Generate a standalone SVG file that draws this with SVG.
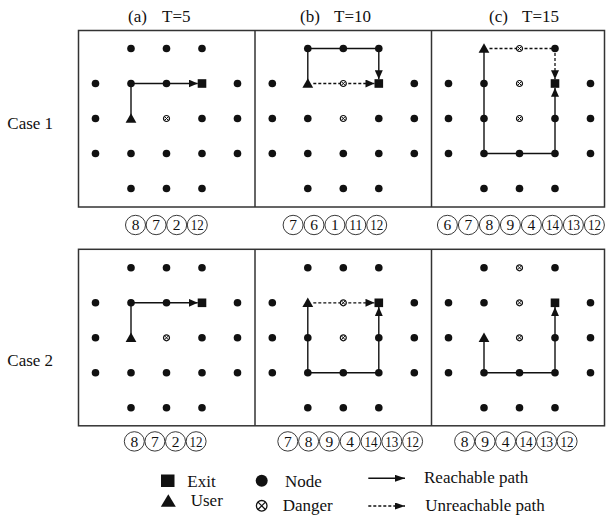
<svg xmlns="http://www.w3.org/2000/svg" xmlns:xlink="http://www.w3.org/1999/xlink" width="606" height="525" viewBox="0 0 606 525">
<style>
.lbl{font-family:"Liberation Serif","Times New Roman",serif;font-size:17px;fill:#111}
.num{font-family:"Liberation Serif","Times New Roman",serif;font-size:15.5px;fill:#111;text-anchor:middle}
.box{fill:none;stroke:#333;stroke-width:1.5}
.sol{fill:none;stroke:#111;stroke-width:1.4}
.dsh{fill:none;stroke:#111;stroke-width:1.3;stroke-dasharray:3 2}
.cir{fill:#fff;stroke:#222;stroke-width:0.9}
</style>
<defs>
<marker id="ah" markerUnits="userSpaceOnUse" markerWidth="9" markerHeight="8" refX="9" refY="4" orient="auto"><path d="M0,0 L9,4 L0,8 Z" fill="#111"/></marker>
<marker id="ahs" markerUnits="userSpaceOnUse" markerWidth="10" markerHeight="7" refX="10" refY="3.5" orient="auto"><path d="M0,0 L10,3.5 L0,7 Z" fill="#111"/></marker>
<circle id="dot" r="3.8" fill="#111"/>
<rect id="exit" x="-4.3" y="-4.3" width="8.6" height="8.6" fill="#111"/>
<path id="user" d="M0,-5.2 L5.4,4.3 L-5.4,4.3 Z" fill="#111"/>
<g id="danger"><circle r="3" fill="#fff" stroke="#111" stroke-width="1.2"/><path d="M-2.1,-2.1 L2.1,2.1 M-2.1,2.1 L2.1,-2.1" stroke="#111" stroke-width="1"/></g>
</defs>
<rect width="606" height="525" fill="#fff"/>

<!-- frames -->
<g id="frames">
<rect class="box" x="78.5" y="30.5" width="526" height="176.5"/>
<line class="box" x1="255" y1="30.5" x2="255" y2="207"/>
<line class="box" x1="431.5" y1="30.5" x2="431.5" y2="207"/>
<rect class="box" x="78.5" y="249.3" width="526" height="176.5"/>
<line class="box" x1="255" y1="249.3" x2="255" y2="425.8"/>
<line class="box" x1="431.5" y1="249.3" x2="431.5" y2="425.8"/>
</g>

<!-- titles -->
<g id="titles" class="lbl">
<text x="128" y="22">(a)</text><text x="162" y="22">T=5</text>
<text x="300" y="22">(b)</text><text x="334" y="22">T=10</text>
<text x="489" y="22">(c)</text><text x="522" y="22">T=15</text>
<text x="7.3" y="129.3">Case 1</text>
<text x="7.3" y="366">Case 2</text>
</g>

<!-- connectors -->
<g id="connectors">
<g transform="translate(166.5,118.5)"><path class="sol" d="M-35.5,0 V-35 H31.2" marker-end="url(#ah)"/></g>
<g transform="translate(343.3,118.5)"><path class="sol" d="M-35.5,-35 V-70 H35.5 V-39.3" marker-end="url(#ah)"/><path class="dsh" d="M-30,-35 H31.2" marker-end="url(#ah)"/></g>
<g transform="translate(519.5,118.5)"><path class="dsh" d="M-30,-70 H35.5 V-39.3" marker-end="url(#ah)"/><path class="sol" d="M-35.5,-70 V35 H35.5 V-30.7" marker-end="url(#ah)"/></g>
<g transform="translate(166.5,337.8)"><path class="sol" d="M-35.5,0 V-35 H31.2" marker-end="url(#ah)"/></g>
<g transform="translate(343.3,337.8)"><path class="sol" d="M-35.5,-35 V35 H35.5 V-30.7" marker-end="url(#ah)"/><path class="dsh" d="M-30,-35 H31.2" marker-end="url(#ah)"/></g>
<g transform="translate(519.5,337.8)"><path class="sol" d="M-35.5,0 V35 H35.5 V-30.7" marker-end="url(#ah)"/></g>
</g>

<!-- panel a, case 1 -->
<g id="a1" transform="translate(166.5,118.5)">
<use id="a1-01" href="#dot" x="-35.5" y="-70"/><use id="a1-02" href="#dot" x="0" y="-70"/><use id="a1-03" href="#dot" x="35.5" y="-70"/>
<use id="a1-10" href="#dot" x="-71" y="-35"/><use id="a1-11" href="#dot" x="-35.5" y="-35"/><use id="a1-12" href="#dot" x="0" y="-35"/><use id="a1-exit" href="#exit" x="35.5" y="-35"/><use id="a1-14" href="#dot" x="71" y="-35"/>
<use id="a1-20" href="#dot" x="-71" y="0"/><use id="a1-user" href="#user" x="-35.5" y="0"/><use id="a1-d22" href="#danger" x="0" y="0"/><use id="a1-23" href="#dot" x="35.5" y="0"/><use id="a1-24" href="#dot" x="71" y="0"/>
<use id="a1-30" href="#dot" x="-71" y="35"/><use id="a1-31" href="#dot" x="-35.5" y="35"/><use id="a1-32" href="#dot" x="0" y="35"/><use id="a1-33" href="#dot" x="35.5" y="35"/><use id="a1-34" href="#dot" x="71" y="35"/>
<use id="a1-41" href="#dot" x="-35.5" y="70"/><use id="a1-42" href="#dot" x="0" y="70"/><use id="a1-43" href="#dot" x="35.5" y="70"/>
</g>

<!-- panel b, case 1 -->
<g id="b1" transform="translate(343.3,118.5)">
<use id="b1-01" href="#dot" x="-35.5" y="-70"/><use id="b1-02" href="#dot" x="0" y="-70"/><use id="b1-03" href="#dot" x="35.5" y="-70"/>
<use id="b1-10" href="#dot" x="-71" y="-35"/><use id="b1-user" href="#user" x="-35.5" y="-35"/><use id="b1-d12" href="#danger" x="0" y="-35"/><use id="b1-exit" href="#exit" x="35.5" y="-35"/><use id="b1-14" href="#dot" x="71" y="-35"/>
<use id="b1-20" href="#dot" x="-71" y="0"/><use id="b1-21" href="#dot" x="-35.5" y="0"/><use id="b1-d22" href="#danger" x="0" y="0"/><use id="b1-23" href="#dot" x="35.5" y="0"/><use id="b1-24" href="#dot" x="71" y="0"/>
<use id="b1-30" href="#dot" x="-71" y="35"/><use id="b1-31" href="#dot" x="-35.5" y="35"/><use id="b1-32" href="#dot" x="0" y="35"/><use id="b1-33" href="#dot" x="35.5" y="35"/><use id="b1-34" href="#dot" x="71" y="35"/>
<use id="b1-41" href="#dot" x="-35.5" y="70"/><use id="b1-42" href="#dot" x="0" y="70"/><use id="b1-43" href="#dot" x="35.5" y="70"/>
</g>

<!-- panel c, case 1 -->
<g id="c1" transform="translate(519.5,118.5)">
<use id="c1-user" href="#user" x="-35.5" y="-70"/><use id="c1-d02" href="#danger" x="0" y="-70"/><use id="c1-03" href="#dot" x="35.5" y="-70"/>
<use id="c1-10" href="#dot" x="-71" y="-35"/><use id="c1-11" href="#dot" x="-35.5" y="-35"/><use id="c1-d12" href="#danger" x="0" y="-35"/><use id="c1-exit" href="#exit" x="35.5" y="-35"/><use id="c1-14" href="#dot" x="71" y="-35"/>
<use id="c1-20" href="#dot" x="-71" y="0"/><use id="c1-21" href="#dot" x="-35.5" y="0"/><use id="c1-d22" href="#danger" x="0" y="0"/><use id="c1-23" href="#dot" x="35.5" y="0"/><use id="c1-24" href="#dot" x="71" y="0"/>
<use id="c1-30" href="#dot" x="-71" y="35"/><use id="c1-31" href="#dot" x="-35.5" y="35"/><use id="c1-32" href="#dot" x="0" y="35"/><use id="c1-33" href="#dot" x="35.5" y="35"/><use id="c1-34" href="#dot" x="71" y="35"/>
<use id="c1-41" href="#dot" x="-35.5" y="70"/><use id="c1-42" href="#dot" x="0" y="70"/><use id="c1-43" href="#dot" x="35.5" y="70"/>
</g>

<!-- panel a, case 2 -->
<g id="a2" transform="translate(166.5,337.8)">
<use id="a2-01" href="#dot" x="-35.5" y="-70"/><use id="a2-02" href="#dot" x="0" y="-70"/><use id="a2-03" href="#dot" x="35.5" y="-70"/>
<use id="a2-10" href="#dot" x="-71" y="-35"/><use id="a2-11" href="#dot" x="-35.5" y="-35"/><use id="a2-12" href="#dot" x="0" y="-35"/><use id="a2-exit" href="#exit" x="35.5" y="-35"/><use id="a2-14" href="#dot" x="71" y="-35"/>
<use id="a2-20" href="#dot" x="-71" y="0"/><use id="a2-user" href="#user" x="-35.5" y="0"/><use id="a2-d22" href="#danger" x="0" y="0"/><use id="a2-23" href="#dot" x="35.5" y="0"/><use id="a2-24" href="#dot" x="71" y="0"/>
<use id="a2-30" href="#dot" x="-71" y="35"/><use id="a2-31" href="#dot" x="-35.5" y="35"/><use id="a2-32" href="#dot" x="0" y="35"/><use id="a2-33" href="#dot" x="35.5" y="35"/><use id="a2-34" href="#dot" x="71" y="35"/>
<use id="a2-41" href="#dot" x="-35.5" y="70"/><use id="a2-42" href="#dot" x="0" y="70"/><use id="a2-43" href="#dot" x="35.5" y="70"/>
</g>

<!-- panel b, case 2 -->
<g id="b2" transform="translate(343.3,337.8)">
<use id="b2-01" href="#dot" x="-35.5" y="-70"/><use id="b2-02" href="#dot" x="0" y="-70"/><use id="b2-03" href="#dot" x="35.5" y="-70"/>
<use id="b2-10" href="#dot" x="-71" y="-35"/><use id="b2-user" href="#user" x="-35.5" y="-35"/><use id="b2-d12" href="#danger" x="0" y="-35"/><use id="b2-exit" href="#exit" x="35.5" y="-35"/><use id="b2-14" href="#dot" x="71" y="-35"/>
<use id="b2-20" href="#dot" x="-71" y="0"/><use id="b2-21" href="#dot" x="-35.5" y="0"/><use id="b2-d22" href="#danger" x="0" y="0"/><use id="b2-23" href="#dot" x="35.5" y="0"/><use id="b2-24" href="#dot" x="71" y="0"/>
<use id="b2-30" href="#dot" x="-71" y="35"/><use id="b2-31" href="#dot" x="-35.5" y="35"/><use id="b2-32" href="#dot" x="0" y="35"/><use id="b2-33" href="#dot" x="35.5" y="35"/><use id="b2-34" href="#dot" x="71" y="35"/>
<use id="b2-41" href="#dot" x="-35.5" y="70"/><use id="b2-42" href="#dot" x="0" y="70"/><use id="b2-43" href="#dot" x="35.5" y="70"/>
</g>

<!-- panel c, case 2 -->
<g id="c2" transform="translate(519.5,337.8)">
<use id="c2-01" href="#dot" x="-35.5" y="-70"/><use id="c2-d02" href="#danger" x="0" y="-70"/><use id="c2-03" href="#dot" x="35.5" y="-70"/>
<use id="c2-10" href="#dot" x="-71" y="-35"/><use id="c2-11" href="#dot" x="-35.5" y="-35"/><use id="c2-d12" href="#danger" x="0" y="-35"/><use id="c2-exit" href="#exit" x="35.5" y="-35"/><use id="c2-14" href="#dot" x="71" y="-35"/>
<use id="c2-20" href="#dot" x="-71" y="0"/><use id="c2-user" href="#user" x="-35.5" y="0"/><use id="c2-d22" href="#danger" x="0" y="0"/><use id="c2-23" href="#dot" x="35.5" y="0"/><use id="c2-24" href="#dot" x="71" y="0"/>
<use id="c2-30" href="#dot" x="-71" y="35"/><use id="c2-31" href="#dot" x="-35.5" y="35"/><use id="c2-32" href="#dot" x="0" y="35"/><use id="c2-33" href="#dot" x="35.5" y="35"/><use id="c2-34" href="#dot" x="71" y="35"/>
<use id="c2-41" href="#dot" x="-35.5" y="70"/><use id="c2-42" href="#dot" x="0" y="70"/><use id="c2-43" href="#dot" x="35.5" y="70"/>
</g>

<!-- sequences -->
<g id="seq-a1">
<ellipse class="cir" cx="135.5" cy="225" rx="10" ry="9.7"/><ellipse class="cir" cx="156.1" cy="225" rx="10" ry="9.7"/><ellipse class="cir" cx="176.7" cy="225" rx="10" ry="9.7"/><ellipse class="cir" cx="197.3" cy="225" rx="10" ry="9.7"/>
<text class="num" x="135.5" y="230.3">8</text><text class="num" x="156.1" y="230.3">7</text><text class="num" x="176.7" y="230.3">2</text><text class="num" x="197.3" y="230.3" textLength="13" lengthAdjust="spacingAndGlyphs">12</text>
</g>
<g id="seq-b1">
<ellipse class="cir" cx="293.1" cy="225" rx="10" ry="9.7"/><ellipse class="cir" cx="314" cy="225" rx="10" ry="9.7"/><ellipse class="cir" cx="334.9" cy="225" rx="10" ry="9.7"/><ellipse class="cir" cx="355.8" cy="225" rx="10" ry="9.7"/><ellipse class="cir" cx="376.7" cy="225" rx="10" ry="9.7"/>
<text class="num" x="293.1" y="230.3">7</text><text class="num" x="314" y="230.3">6</text><text class="num" x="334.9" y="230.3">1</text><text class="num" x="355.8" y="230.3" textLength="13" lengthAdjust="spacingAndGlyphs">11</text><text class="num" x="376.7" y="230.3" textLength="13" lengthAdjust="spacingAndGlyphs">12</text>
</g>
<g id="seq-c1">
<ellipse class="cir" cx="447.4" cy="225" rx="10" ry="9.7"/><ellipse class="cir" cx="468.4" cy="225" rx="10" ry="9.7"/><ellipse class="cir" cx="489.4" cy="225" rx="10" ry="9.7"/><ellipse class="cir" cx="510.4" cy="225" rx="10" ry="9.7"/><ellipse class="cir" cx="531.4" cy="225" rx="10" ry="9.7"/><ellipse class="cir" cx="552.4" cy="225" rx="10" ry="9.7"/><ellipse class="cir" cx="573.4" cy="225" rx="10" ry="9.7"/><ellipse class="cir" cx="594.4" cy="225" rx="10" ry="9.7"/>
<text class="num" x="447.4" y="230.3">6</text><text class="num" x="468.4" y="230.3">7</text><text class="num" x="489.4" y="230.3">8</text><text class="num" x="510.4" y="230.3">9</text><text class="num" x="531.4" y="230.3">4</text><text class="num" x="552.4" y="230.3" textLength="13" lengthAdjust="spacingAndGlyphs">14</text><text class="num" x="573.4" y="230.3" textLength="13" lengthAdjust="spacingAndGlyphs">13</text><text class="num" x="594.4" y="230.3" textLength="13" lengthAdjust="spacingAndGlyphs">12</text>
</g>
<g id="seq-a2">
<ellipse class="cir" cx="134.3" cy="441.4" rx="10" ry="9.7"/><ellipse class="cir" cx="154.9" cy="441.4" rx="10" ry="9.7"/><ellipse class="cir" cx="175.5" cy="441.4" rx="10" ry="9.7"/><ellipse class="cir" cx="196.1" cy="441.4" rx="10" ry="9.7"/>
<text class="num" x="134.3" y="446.7">8</text><text class="num" x="154.9" y="446.7">7</text><text class="num" x="175.5" y="446.7">2</text><text class="num" x="196.1" y="446.7" textLength="13" lengthAdjust="spacingAndGlyphs">12</text>
</g>
<g id="seq-b2">
<ellipse class="cir" cx="287.8" cy="441.4" rx="10" ry="9.7"/><ellipse class="cir" cx="308.6" cy="441.4" rx="10" ry="9.7"/><ellipse class="cir" cx="329.4" cy="441.4" rx="10" ry="9.7"/><ellipse class="cir" cx="350.2" cy="441.4" rx="10" ry="9.7"/><ellipse class="cir" cx="371" cy="441.4" rx="10" ry="9.7"/><ellipse class="cir" cx="391.8" cy="441.4" rx="10" ry="9.7"/><ellipse class="cir" cx="412.6" cy="441.4" rx="10" ry="9.7"/>
<text class="num" x="287.8" y="446.7">7</text><text class="num" x="308.6" y="446.7">8</text><text class="num" x="329.4" y="446.7">9</text><text class="num" x="350.2" y="446.7">4</text><text class="num" x="371" y="446.7" textLength="13" lengthAdjust="spacingAndGlyphs">14</text><text class="num" x="391.8" y="446.7" textLength="13" lengthAdjust="spacingAndGlyphs">13</text><text class="num" x="412.6" y="446.7" textLength="13" lengthAdjust="spacingAndGlyphs">12</text>
</g>
<g id="seq-c2">
<ellipse class="cir" cx="464.6" cy="441.4" rx="10" ry="9.7"/><ellipse class="cir" cx="485.1" cy="441.4" rx="10" ry="9.7"/><ellipse class="cir" cx="505.6" cy="441.4" rx="10" ry="9.7"/><ellipse class="cir" cx="526.1" cy="441.4" rx="10" ry="9.7"/><ellipse class="cir" cx="546.6" cy="441.4" rx="10" ry="9.7"/><ellipse class="cir" cx="567.1" cy="441.4" rx="10" ry="9.7"/>
<text class="num" x="464.6" y="446.7">8</text><text class="num" x="485.1" y="446.7">9</text><text class="num" x="505.6" y="446.7">4</text><text class="num" x="526.1" y="446.7" textLength="13" lengthAdjust="spacingAndGlyphs">14</text><text class="num" x="546.6" y="446.7" textLength="13" lengthAdjust="spacingAndGlyphs">13</text><text class="num" x="567.1" y="446.7" textLength="13" lengthAdjust="spacingAndGlyphs">12</text>
</g>

<!-- legend -->
<g id="legend">
<rect x="161" y="474.5" width="13.5" height="12.5" fill="#111"/>
<text class="lbl" x="187.3" y="486.5">Exit</text>
<path d="M168.3,494.3 L175.8,506.7 L160.8,506.7 Z" fill="#111"/>
<text class="lbl" x="190.7" y="505.5">User</text>
<circle cx="261.7" cy="480.7" r="6" fill="#111"/>
<text class="lbl" x="285" y="486.5">Node</text>
<circle cx="261.7" cy="505.8" r="5.3" fill="none" stroke="#111" stroke-width="1.3"/>
<path d="M258,502.1 L265.4,509.5 M258,509.5 L265.4,502.1" stroke="#111" stroke-width="1.2"/>
<text class="lbl" x="282.7" y="511">Danger</text>
<line class="sol" x1="368.3" y1="478.3" x2="405" y2="478.3" marker-end="url(#ahs)"/>
<text class="lbl" x="424" y="483.3">Reachable path</text>
<line class="dsh" x1="368.3" y1="506" x2="405" y2="506" marker-end="url(#ahs)"/>
<text class="lbl" x="425.3" y="511">Unreachable path</text>
</g>
</svg>
